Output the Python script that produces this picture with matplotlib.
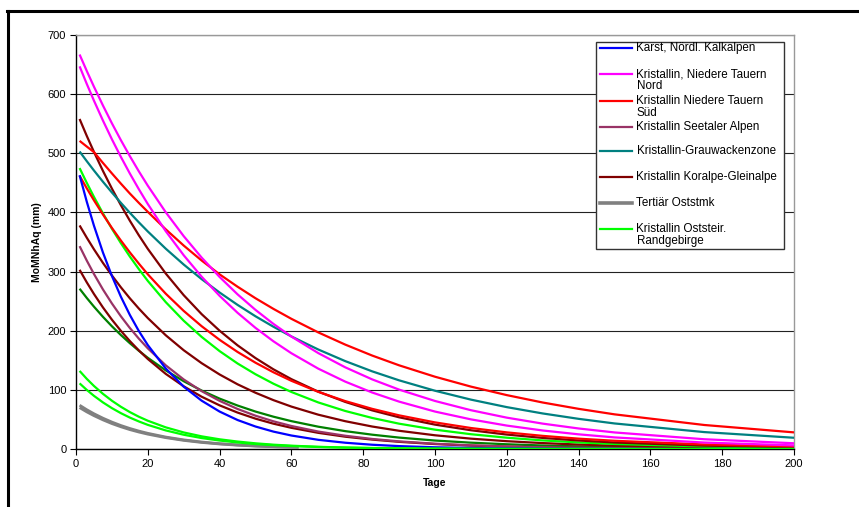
import matplotlib
matplotlib.use("Agg")
import matplotlib.pyplot as plt
from matplotlib.lines import Line2D
from matplotlib.patches import Rectangle

plt.rcParams['font.family'] = ['Liberation Sans', 'DejaVu Sans']

W, H = 859, 507

days = [1, 3, 5, 7.5, 10, 12.5, 15, 17.5, 20, 25, 30, 35, 40, 45, 50, 55, 60,
        67.5, 75, 82.5, 90, 100, 110, 120, 130, 140, 150, 175, 200]
days_gray = [1, 3, 5, 7.5, 10, 12.5, 15, 17.5, 20, 25, 30, 35, 40, 45, 50, 56, 62]

karst = [463, 418.1, 377.6, 332.3, 292.6, 257.5, 226.7, 199.5, 175.7, 136.1, 105.4, 81.7, 63.3, 49.0, 38.0,
         29.4, 22.8, 15.5, 10.6, 7.2, 4.9, 2.9, 1.8, 1.1, 0.6, 0.4, 0.2, 0.1, 0.0]
tauern_nord_a = [667, 639.2, 612.6, 580.9, 550.7, 522.2, 495.2, 469.5, 445.2, 400.3, 359.9, 323.6, 290.9, 261.5,
                 235.2, 211.5, 190.1, 162.1, 138.1, 117.7, 100.4, 81.2, 65.6, 53.0, 42.9, 34.7, 28.0, 16.5, 9.7]
tauern_nord_b = [647, 617.3, 589.0, 555.4, 523.7, 493.9, 465.8, 439.3, 414.2, 368.3, 327.6, 291.3, 259.0, 230.3,
                 204.8, 182.1, 161.9, 135.8, 113.9, 95.5, 80.1, 63.3, 50.1, 39.6, 31.3, 24.8, 19.6, 10.9, 6.1]
tauern_sued_a = [521, 511.4, 502, 483.7, 466, 448.7, 432, 416.2, 401, 371.4, 344, 318.7, 295.3, 274.4, 254.9,
                 236.9, 220.1, 197.1, 176.5, 158.0, 141.5, 122.2, 105.5, 91.1, 78.6, 67.9, 58.6, 40.6, 28.1]
tauern_sued_b = [462, 440.8, 420.5, 396.5, 373.8, 352.5, 332.4, 313.5, 295.4, 262.6, 233.5, 207.6, 184.6, 164.1,
                 145.9, 129.7, 115.3, 96.6, 81.0, 67.9, 56.9, 45.0, 35.5, 28.1, 22.2, 17.5, 13.9, 7.7, 4.3]
seetaler = [343, 318.6, 295.9, 269.8, 246.1, 224.4, 204.6, 186.6, 170.2, 141.5, 117.6, 97.8, 81.4, 67.7, 56.3,
            46.8, 38.9, 29.5, 22.4, 17.0, 12.9, 8.9, 6.1, 4.2, 2.9, 2.0, 1.4, 0.6, 0.2]
grauwacke = [503, 486.7, 470.9, 451.9, 433.7, 416.2, 399.4, 383.3, 367.8, 338.7, 311.9, 287.2, 264.6, 243.7,
             224.4, 206.7, 190.3, 168.2, 148.6, 131.3, 116.1, 98.5, 83.5, 70.8, 60.1, 51.0, 43.2, 28.6, 19.0]
koralpe_a = [558, 529.4, 502.3, 470.3, 440.3, 412.3, 386.0, 361.4, 338.4, 296.7, 260.1, 228.0, 200.0, 175.3,
             153.7, 134.7, 118.1, 96.9, 79.6, 65.3, 53.6, 41.2, 31.7, 24.4, 18.7, 14.4, 11.0, 5.7, 3.0]
koralpe_b = [378, 357.3, 337.7, 314.7, 293.4, 273.4, 254.8, 237.5, 221.4, 192.3, 167.0, 145.1, 126.0, 109.4,
             95.1, 82.6, 71.7, 58.0, 47.0, 38.0, 30.8, 23.2, 17.5, 13.2, 10.0, 7.5, 5.7, 2.8, 1.4]
koralpe_c = [303, 281.8, 262.1, 239.4, 218.7, 199.8, 182.5, 166.7, 152.2, 127.0, 106.0, 88.4, 73.8, 61.6, 51.3,
             42.8, 35.8, 27.3, 20.8, 15.9, 12.1, 8.4, 5.8, 4.0, 2.8, 1.9, 1.4, 0.6, 0.2]
tertiaer_a = [74, 66.4, 59.6, 52.1, 45.5, 39.7, 34.7, 30.3, 26.5, 20.2, 15.4, 11.8, 9.0, 6.9, 5.2, 3.8, 2.7]
tertiaer_b = [70, 62.8, 56.4, 49.3, 43.0, 37.6, 32.8, 28.7, 25.1, 19.2, 14.6, 11.1, 8.5, 6.5, 5.0, 3.6, 2.6]
oststeir_a = [475, 450.0, 426.3, 398.5, 372.4, 348.1, 325.4, 304.2, 284.2, 248.3, 216.9, 189.5, 165.5, 144.6,
              126.4, 110.4, 96.4, 78.7, 64.3, 52.5, 42.8, 32.7, 25.0, 19.1, 14.5, 11.1, 8.5, 4.3, 2.2]
oststeir_b = [132, 118.6, 106.6, 93.3, 81.6, 71.4, 62.4, 54.6, 47.8, 36.6, 28.0, 21.4, 16.4, 12.6, 9.6, 7.3,
              5.6, 3.7, 2.5, 1.7, 1.1, 0.6, 0.4, 0.2, 0.1, 0.1, 0.0, 0.0, 0.0]
oststeir_c = [111, 99.9, 89.9, 78.8, 69.1, 60.6, 53.1, 46.6, 40.8, 31.4, 24.1, 18.5, 14.3, 11.0, 8.4, 6.5,
              5.0, 3.4, 2.3, 1.5, 1.0, 0.6, 0.4, 0.2, 0.1, 0.1, 0.0, 0.0, 0.0]
other_dkgreen = [271, 255.4, 240.7, 223.5, 207.5, 192.7, 178.9, 166.1, 154.2, 132.9, 114.6, 98.8, 85.2, 73.5,
                 63.3, 54.6, 47.1, 37.7, 30.2, 24.2, 19.3, 14.3, 10.7, 8.0, 5.9, 4.4, 3.3, 1.6, 0.7]

legend_labels = ["Karst, Nördl. Kalkalpen",
                 "Kristallin, Niedere Tauern\nNord",
                 "Kristallin Niedere Tauern\nSüd",
                 "Kristallin Seetaler Alpen",
                 "Kristallin-Grauwackenzone",
                 "Kristallin Koralpe-Gleinalpe",
                 "Tertiär Oststmk",
                 "Kristallin Oststeir.\nRandgebirge"]

C_BLUE = "#0000FF"
C_MAG = "#FF00FF"
C_RED = "#FF0000"
C_PURP = "#993366"
C_TEAL = "#008080"
C_MAR = "#800000"
C_GRAY = "#808080"
C_GRN = "#00FF00"
C_DKG = "#008000"
legend_colors = [C_BLUE, C_MAG, C_RED, C_PURP, C_TEAL, C_MAR, C_GRAY, C_GRN]

fig = plt.figure(figsize=(W / 100, H / 100), dpi=100)
fig.patch.set_facecolor("white")

def fx(px):
    return px / W

def fy(py):
    return 1 - py / H

ax = fig.add_axes([fx(76), fy(449), fx(794) - fx(76), fy(35) - fy(449)])

LW = 1.6
series = [
    (days, other_dkgreen, C_DKG, LW),
    (days, koralpe_c, C_MAR, LW),
    (days, seetaler, C_PURP, LW),
    (days, koralpe_b, C_MAR, LW),
    (days, oststeir_a, C_GRN, LW),
    (days, koralpe_a, C_MAR, LW),
    (days, tauern_sued_b, C_RED, LW),
    (days, karst, C_BLUE, LW),
    (days, grauwacke, C_TEAL, LW),
    (days, tauern_sued_a, C_RED, LW),
    (days, tauern_nord_b, C_MAG, LW),
    (days, tauern_nord_a, C_MAG, LW),
    (days_gray, tertiaer_a, C_GRAY, 2.0),
    (days_gray, tertiaer_b, C_GRAY, 2.0),
    (days, oststeir_c, C_GRN, LW),
    (days, oststeir_b, C_GRN, LW),
]
for xs, ys, c, lw in series:
    ax.plot(xs, ys, color=c, lw=lw, solid_capstyle="butt", solid_joinstyle="round", zorder=3)

ax.set_xlim(0, 200)
ax.set_ylim(0, 700)
ax.set_xticks(range(0, 201, 20))
ax.set_yticks(range(0, 701, 100))
ax.yaxis.grid(True, color="#222222", lw=0.8, zorder=1)
ax.set_axisbelow(True)
for s in ("top", "right"):
    ax.spines[s].set_color("#999999")
    ax.spines[s].set_linewidth(1.0)
for s in ("left", "bottom"):
    ax.spines[s].set_color("black")
    ax.spines[s].set_linewidth(1.0)
ax.tick_params(axis="both", direction="out", length=4, width=0.8,
               labelsize=8, colors="black", pad=3)
ax.set_xlabel("Tage", fontsize=7.5, fontweight="bold", labelpad=7)
ax.set_ylabel("MoMNhAq (mm)", fontsize=7.5, fontweight="bold", labelpad=4)

# Legend box drawn manually to match the layout
lx0, lx1, ly0, ly1 = 596, 784, 42, 249
fig.patches.append(Rectangle((fx(lx0), fy(ly1)), fx(lx1) - fx(lx0), fy(ly0) - fy(ly1),
                             transform=fig.transFigure, facecolor="white",
                             edgecolor="#333333", lw=1.0, zorder=10))
entry_y = [47.7, 74.3, 100.7, 126.7, 151.0, 176.7, 203.3, 229.0]
for lab, col, yy in zip(legend_labels, legend_colors, entry_y):
    lw = 2.6 if col == C_GRAY else 1.6
    fig.add_artist(Line2D([fx(600), fx(632)], [fy(yy), fy(yy)], color=col, lw=lw,
                          transform=fig.transFigure, zorder=11))
    lines = lab.split("\n")
    for i, ln in enumerate(lines):
        fig.text(fx(636.5), fy(yy + i * 12), ln, fontsize=8.4, va="center",
                 ha="left", zorder=12)

# Outer chart frame (only left and top edges are visible)
fig.add_artist(Line2D([fx(8), fx(8)], [fy(10.5), fy(H + 5)], color="black", lw=2.2,
                      transform=fig.transFigure))
fig.add_artist(Line2D([fx(7), fx(W + 5)], [fy(10.5), fy(10.5)], color="black", lw=2.2,
                      transform=fig.transFigure))

fig.savefig("out.png", dpi=100)
